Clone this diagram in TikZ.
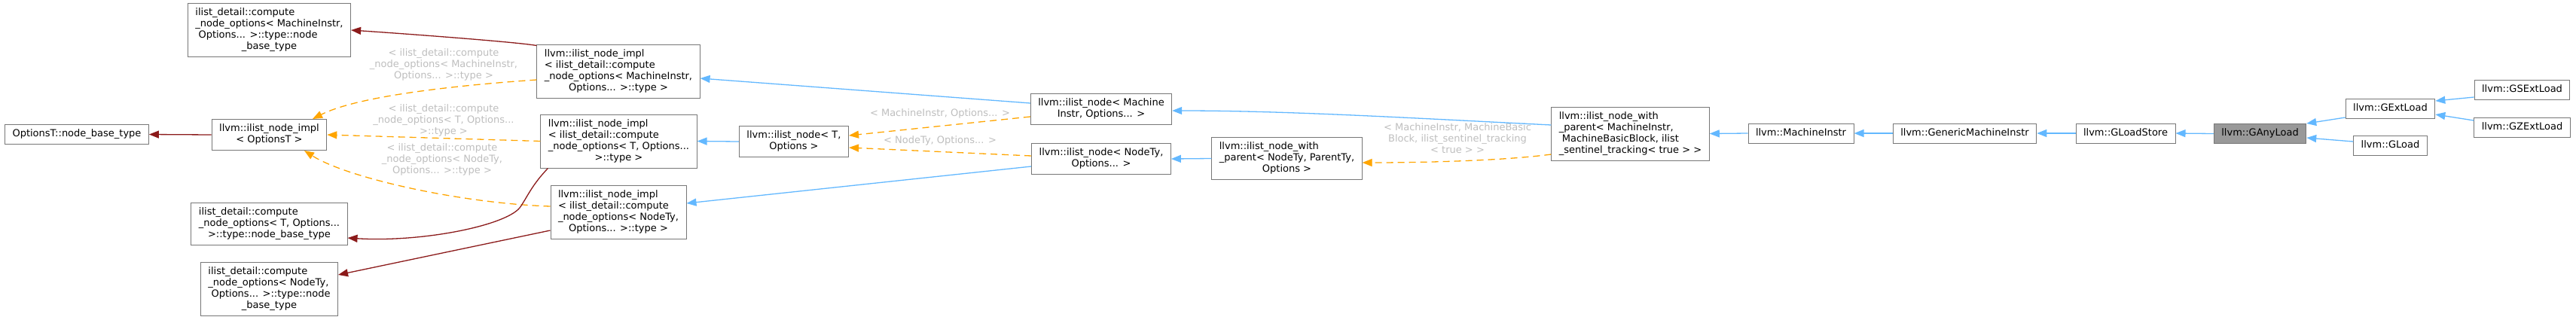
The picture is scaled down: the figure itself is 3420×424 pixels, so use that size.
\documentclass[tikz,border=0pt]{standalone}
\usepackage{fontspec}
\setmainfont{DejaVu Sans}
\usetikzlibrary{arrows.meta}
\definecolor{boxgray}{HTML}{777777}
\definecolor{focusgray}{HTML}{999999}
\definecolor{pubblue}{HTML}{63B8FF}
\definecolor{privred}{HTML}{8B1A1A}
\definecolor{tmplorange}{HTML}{FFA500}
\definecolor{labgray}{HTML}{BEBEBE}
\newcommand{\lines}[1]{\begin{tabular}{@{}l@{}}#1\end{tabular}}
\newcommand{\lastln}[1]{\multicolumn{1}{@{}c@{}}{#1}}
\tikzset{
  classbox/.style={draw=boxgray, fill=white, line width=1pt, inner xsep=10pt, inner ysep=5.5pt, font=\fontsize{13}{15}\selectfont},
  pub/.style={draw=pubblue, line width=1.3pt, -{Triangle[length=13pt,width=10pt]}},
  priv/.style={draw=privred, line width=1.3pt, -{Triangle[length=13pt,width=10pt]}},
  tmpl/.style={draw=tmplorange, line width=1.3pt, dash pattern=on 9pt off 6pt, -{Triangle[length=13pt,width=10pt]}},
  elab/.style={text=labgray, align=center, inner sep=0pt, font=\fontsize{13}{15}\selectfont}
}
\begin{document}
\begin{tikzpicture}[x=1pt, y=-1pt]
  \useasboundingbox (0,0) rectangle (3420,424);
  \node[classbox] (ptype) at (102,178.5) {\lines{OptionsT::node\_base\_type}};
  \node[classbox] (implO) at (357.5,179) {\lines{llvm::ilist\_node\_impl\\\lastln{< OptionsT >}}};
  \node[classbox] (baseMI) at (357.5,40) {\lines{ilist\_detail::compute\\\_node\_options< MachineInstr,\\\ Options... >::type::node\\\lastln{\_base\_type}}};
  \node[classbox] (baseT) at (357.5,297) {\lines{ilist\_detail::compute\\\_node\_options< T, Options...\\\lastln{>::type::node\_base\_type}}};
  \node[classbox] (baseN) at (357.5,383.5) {\lines{ilist\_detail::compute\\\_node\_options< NodeTy,\\\ Options... >::type::node\\\lastln{\_base\_type}}};
  \node[classbox] (implMI) at (821,94.5) {\lines{llvm::ilist\_node\_impl\\< ilist\_detail::compute\\\_node\_options< MachineInstr,\\\lastln{Options... >::type >}}};
  \node[classbox] (implT) at (821.5,187.5) {\lines{llvm::ilist\_node\_impl\\< ilist\_detail::compute\\\_node\_options< T, Options...\\\lastln{>::type >}}};
  \node[classbox] (implN) at (821,281.5) {\lines{llvm::ilist\_node\_impl\\< ilist\_detail::compute\\\_node\_options< NodeTy,\\\lastln{Options... >::type >}}};
  \node[classbox] (nodeT) at (1054,188) {\lines{llvm::ilist\_node< T,\\\lastln{Options >}}};
  \node[classbox] (nodeMI) at (1462,145) {\lines{llvm::ilist\_node< Machine\\\lastln{Instr, Options... >}}};
  \node[classbox] (nodeN) at (1462,211) {\lines{llvm::ilist\_node< NodeTy,\\\lastln{Options... >}}};
  \node[classbox] (wpN) at (1708.5,210.5) {\lines{llvm::ilist\_node\_with\\\_parent< NodeTy, ParentTy,\\\lastln{Options >}}};
  \node[classbox] (wpMI) at (2164.5,177.5) {\lines{llvm::ilist\_node\_with\\\_parent< MachineInstr,\\\ MachineBasicBlock, ilist\\\lastln{\_sentinel\_tracking< true > >}}};
  \node[classbox] (mi) at (2391,177) {\lines{llvm::MachineInstr}};
  \node[classbox] (gmi) at (2608.5,177) {\lines{llvm::GenericMachineInstr}};
  \node[classbox] (gls) at (2822,177) {\lines{llvm::GLoadStore}};
  \node[classbox, fill=focusgray] (gal) at (3000.5,177.5) {\lines{llvm::GAnyLoad}};
  \node[classbox] (gext) at (3173.5,144.5) {\lines{llvm::GExtLoad}};
  \node[classbox] (gload) at (3173.5,193) {\lines{llvm::GLoad}};
  \node[classbox] (gsext) at (3348.5,119.5) {\lines{llvm::GSExtLoad}};
  \node[classbox] (gzext) at (3348.5,169.5) {\lines{llvm::GZExtLoad}};
  \node[elab] (lab1) at (589,86) {< ilist\_detail::compute\\\_node\_options< MachineInstr,\\Options... >::type >};
  \node[elab] (lab2) at (589,160) {< ilist\_detail::compute\\\_node\_options< T, Options...\\>::type >};
  \node[elab] (lab3) at (587,212) {< ilist\_detail::compute\\\_node\_options< NodeTy,\\Options... >::type >};
  \node[elab] (lab4) at (1248,151) {< MachineInstr, Options... >};
  \node[elab] (lab5) at (1248,187) {< NodeTy, Options... >};
  \node[elab] (lab6) at (1935,184) {< MachineInstr, MachineBasic\\Block, ilist\_sentinel\_tracking\\< true > >};
  \coordinate (bend) at (690,276);
  \draw[priv] (implO.west) -- (ptype.east);
  \draw[tmpl] ([yshift=-11.5pt]implMI.west) .. controls +(-130,9) and +(55,-28) .. ([xshift=57.5pt]implO.north);
  \draw[tmpl] (implT.west) -- (implO.east);
  \draw[tmpl] ([yshift=7.5pt]implN.west) .. controls +(-120,-4) and +(56,36) .. ([xshift=46.5pt]implO.south);
  \draw[priv] ([yshift=-2pt]implMI.north west) .. controls +(-22,-4) and +(103,7) .. (baseMI.east);
  \draw[priv] ([xshift=10pt]implT.south west) .. controls +(-22,23) and +(10,-14) .. (bend) .. controls +(-20,24) and +(98,6) .. ([yshift=-19pt]baseT.east);
  \draw[priv] ([yshift=-24.5pt]implN.west) -- ([yshift=18.5pt]baseN.east);
  \draw[pub] ([yshift=8pt]nodeMI.west) -- ([yshift=-9.5pt]implMI.east);
  \draw[pub] (nodeT.west) -- (implT.east);
  \draw[pub] ([yshift=-10pt]nodeN.west) -- ([yshift=11.5pt]implN.east);
  \draw[tmpl] ([yshift=-10pt]nodeMI.west) -- ([yshift=8pt]nodeT.east);
  \draw[tmpl] ([yshift=4pt]nodeN.west) -- ([yshift=-8pt]nodeT.east);
  \draw[pub] (wpN.west) -- (nodeN.east);
  \draw[pub] ([yshift=11.5pt]wpMI.west) .. controls +(-200,-10) and +(150,0) .. ([yshift=-2pt]nodeMI.east);
  \draw[tmpl] ([yshift=-27.5pt]wpMI.west) .. controls +(-60,8) and +(90,0) .. ([yshift=-5.5pt]wpN.east);
  \draw[pub] (mi.west) -- (wpMI.east);
  \draw[pub] (gmi.west) -- (mi.east);
  \draw[pub] (gls.west) -- (gmi.east);
  \draw[pub] (gal.west) -- (gls.east);
  \draw[pub] ([yshift=-11.5pt]gext.west) -- ([yshift=13.5pt]gal.east);
  \draw[pub] ([yshift=5pt]gload.west) -- ([yshift=-5.5pt]gal.east);
  \draw[pub] ([yshift=-9.5pt]gsext.west) -- ([yshift=10.5pt]gext.east);
  \draw[pub] ([yshift=9.5pt]gzext.west) -- ([yshift=-7.5pt]gext.east);
\end{tikzpicture}
\end{document}
